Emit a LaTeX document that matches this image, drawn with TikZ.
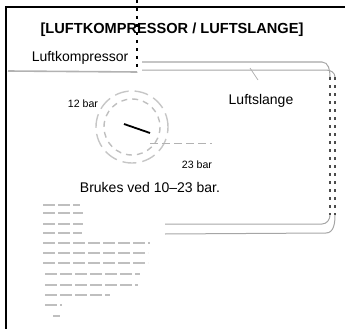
\documentclass[tikz,border=0pt]{standalone}
\usepackage{fontspec}
\setmainfont{Liberation Sans}
\usetikzlibrary{positioning}

\begin{document}
\begin{tikzpicture}[
    x=1pt, y=-1pt,
    lbl/.style={inner sep=0pt, font=\fontsize{14}{16}\selectfont},
    small/.style={inner sep=0pt, font=\fontsize{10.6}{12}\selectfont},
    frame/.style={line width=2pt, black},
    hose/.style={gray!70, line width=1pt},
    faded/.style={gray!50, line width=2.4pt},
    gauge/.style={gray!50, line width=1.4pt}
  ]
  \useasboundingbox (0,0) rectangle (345,329);
  % frame
  \coordinate (tl) at (6,7);
  \coordinate (tr) at (345,7);
  \coordinate (bl) at (6,329);
  \draw[frame] (tr) -- (tl) -- (bl);

  \node[lbl, font=\bfseries\fontsize{14.6}{16}\selectfont] (title) at (172,30) {[LUFTKOMPRESSOR / LUFTSLANGE]};
  \node[lbl] (komp) at (80,58) {Luftkompressor};
  \node[lbl] (slange) at (261,101) {Luftslange};
  \node[small] (lo) at (83,104) {12 bar};
  \node[small] (hi) at (197,165) {23 bar};
  \node[lbl] (note) at (150,187) {Brukes ved 10--23 bar.};

  % compressor outlet
  \coordinate (cut top) at (137,0);
  \coordinate (cut) at (137,72);
  \coordinate (base) at (8,71);
  \draw[black, line width=1.2pt, dash pattern=on 3pt off 5pt] (cut top) -- (cut);
  \draw[gray!60, line width=1.6pt] (base) -- (cut);

  % hose
  \coordinate (h1) at (142,62);
  \coordinate (h2) at (142,70);
  \coordinate (r1) at (330,77);
  \coordinate (r2) at (335,77);
  \coordinate (s1) at (330,215);
  \coordinate (s2) at (335,215);
  \coordinate (e1) at (165,224);
  \coordinate (e2) at (165,234);
  \draw[hose] (h1) -- (322,62) to[out=0,in=90] (r1);
  \draw[hose] (h2) -- (326,70) to[out=0,in=90] (r2);
  \draw[black!70, line width=2pt, dash pattern=on 2.5pt off 5.5pt] (r1) -- (s1);
  \draw[black!70, line width=2pt, dash pattern=on 2.5pt off 5.5pt] (r2) -- (s2);
  \draw[hose] (s1) to[out=-90,in=0] (322,224) -- (e1);
  \draw[hose] (s2) to[out=-90,in=0] (326,233) -- (e2);
  \draw[gray!60, line width=0.8pt] (250,68) -- (258,80);

  % gauge
  \node[circle, draw=gray!45, line width=1.4pt, dash pattern=on 14pt off 6pt,
        minimum size=72pt, inner sep=0pt] (dial) at (132,127) {};
  \draw[gauge, dash pattern=on 6pt off 5pt] (dial.center) circle[radius=28];
  \draw[black, line width=1.8pt] (124,124) -- (150,133);
  \draw[gray!60, line width=1pt, dash pattern=on 8pt off 4pt] (150,143) -- (212,143);

  % compressor body (faded)
  \foreach \y/\a/\b in {205/43/80, 213/43/83, 224/43/83, 233/43/82, 243/43/150,
                       253/43/148, 263/43/148, 274/45/140, 285/45/138,
                       295/45/110, 305/45/62, 316/53/60}
    \draw[faded, dash pattern=on 12pt off 3pt] (\a,\y) -- (\b,\y);
\end{tikzpicture}
\end{document}
